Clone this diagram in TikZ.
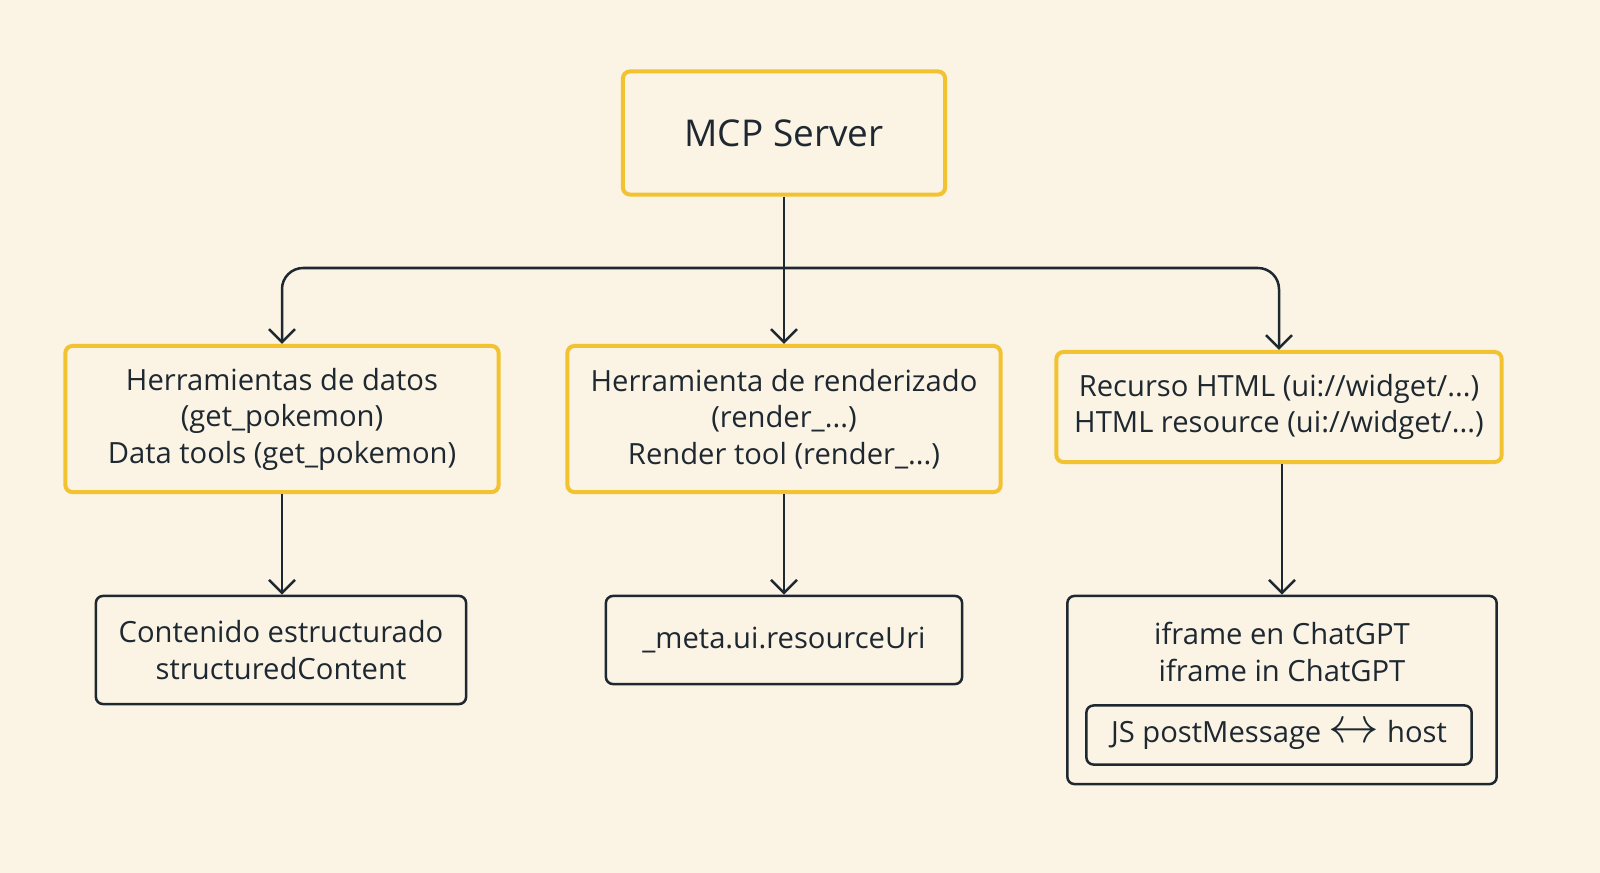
\documentclass[tikz,border=0pt]{standalone}
\usepackage{fontspec}
\setmainfont{Open Sans}
\usetikzlibrary{arrows.meta}
\definecolor{bgColor}{HTML}{FBF3E4}
\definecolor{boxYellow}{HTML}{F2C230}
\definecolor{lineColor}{HTML}{1E2830}
\tikzstyle{yellowBox}=[draw=boxYellow,line width=0.4mm,rounded corners=2pt,align=center,font=\fontsize{8.3}{10.4}\selectfont,text=lineColor]
\tikzstyle{plainBox}=[draw=lineColor,line width=0.25mm,rounded corners=2pt,align=center,font=\fontsize{8.3}{10.4}\selectfont,text=lineColor]
\tikzstyle{link}=[draw=lineColor,line width=0.25mm,-{Straight Barb[length=1.3mm,width=2.6mm]}]
\begin{document}
\begin{tikzpicture}[x=0.01cm,y=-0.01cm]
        \fill[bgColor] (0,0) rectangle (1600,873);
        \useasboundingbox (0,0) rectangle (1600,873);
        % top
        \node[yellowBox,minimum width=3.22cm,minimum height=1.23cm,font=\fontsize{10.5}{12}\selectfont] (mcp) at (784,133) {MCP Server};
        % middle row
        \node[yellowBox,minimum width=4.33cm,minimum height=1.46cm] (data) at (282,419)
                {Herramientas de datos\\(get\_pokemon)\\Data tools (get\_pokemon)};
        \node[yellowBox,minimum width=4.33cm,minimum height=1.46cm] (render) at (784,419)
                {Herramienta de renderizado\\(render\_...)\\Render tool (render\_...)};
        \node[yellowBox,minimum width=4.45cm,minimum height=1.10cm] (html) at (1279,407)
                {Recurso HTML (ui://widget/...)\\HTML resource (ui://widget/...)};
        % bottom row
        \node[plainBox,minimum width=3.70cm,minimum height=1.08cm] (content) at (281,650)
                {Contenido estructurado\\structuredContent};
        \node[plainBox,minimum width=3.56cm,minimum height=0.88cm] (meta) at (784,640)
                {\_meta.ui.resourceUri};
        \node[plainBox,minimum width=4.29cm,minimum height=1.88cm] (iframe) at (1282,690) {};
        \node[font=\fontsize{8.3}{10.4}\selectfont,align=center,text=lineColor] (iframeText) at (1282,652)
                {iframe en ChatGPT\\iframe in ChatGPT};
        \node[plainBox,minimum width=3.85cm,minimum height=0.59cm] (js) at (1279,735)
                {JS postMessage {\Large$\leftrightarrow$} host};
        % connectors
        \coordinate (split) at (784,268);
        \draw[link] (mcp.south) -- (render.north);
        \draw[link,rounded corners=6pt] (split) -| (data.north);
        \draw[link,rounded corners=6pt] (split) -| (html.north);
        \draw[link] (data.south) -- (content.north -| data.south);
        \draw[link] (render.south) -- (meta.north);
        \draw[link] (html.south -| iframe.north) -- (iframe.north);
\end{tikzpicture}
\end{document}
